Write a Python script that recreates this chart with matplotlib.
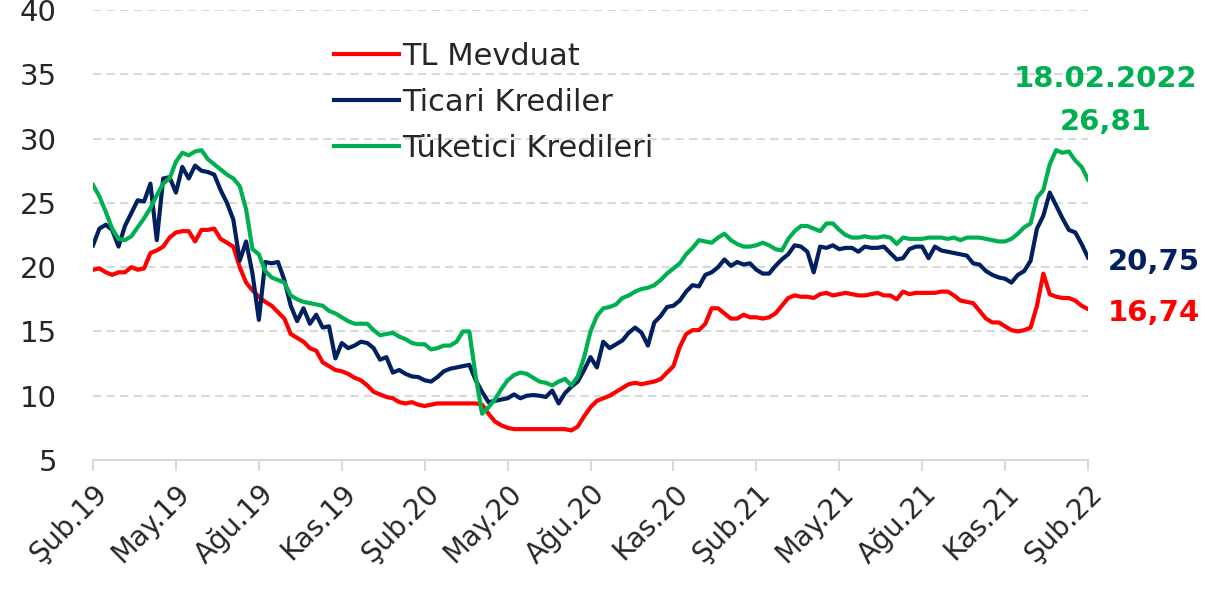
import numpy as np
import matplotlib
matplotlib.use("Agg")
import matplotlib.pyplot as plt

plt.rcParams['font.family'] = ['DejaVu Sans']

# haftalık faiz verisi (%), Şub.19 - 18.02.2022
tl_mevduat = [
    19.8, 19.9, 19.6, 19.4, 19.6, 19.6, 20.0, 19.8, 19.9, 21.1,
    21.3, 21.6, 22.3, 22.7, 22.8, 22.8, 22.0, 22.9, 22.9, 23.0,
    22.2, 21.9, 21.6, 20.0, 18.8, 18.2, 17.7, 17.3, 17.0, 16.5,
    16.0, 14.8, 14.5, 14.2, 13.7, 13.5, 12.6, 12.3, 12.0, 11.9,
    11.7, 11.4, 11.2, 10.8, 10.3, 10.1, 9.9, 9.8, 9.5, 9.4,
    9.5, 9.3, 9.2, 9.3, 9.4, 9.4, 9.4, 9.4, 9.4, 9.4,
    9.4, 9.3, 8.6, 8.0, 7.7, 7.5, 7.4, 7.4, 7.4, 7.4,
    7.4, 7.4, 7.4, 7.4, 7.4, 7.3, 7.6, 8.4, 9.1, 9.6,
    9.8, 10.0, 10.3, 10.6, 10.9, 11.0, 10.9, 11.0, 11.1, 11.3,
    11.8, 12.3, 13.8, 14.8, 15.1, 15.1, 15.6, 16.8, 16.8, 16.4,
    16.0, 16.0, 16.3, 16.1, 16.1, 16.0, 16.1, 16.4, 17.0, 17.6,
    17.8, 17.7, 17.7, 17.6, 17.9, 18.0, 17.8, 17.9, 18.0, 17.9,
    17.8, 17.8, 17.9, 18.0, 17.8, 17.8, 17.5, 18.1, 17.9, 18.0,
    18.0, 18.0, 18.0, 18.1, 18.1, 17.8, 17.4, 17.3, 17.2, 16.6,
    16.0, 15.7, 15.7, 15.4, 15.1, 15.0, 15.1, 15.3, 17.0, 19.5,
    17.9, 17.7, 17.6, 17.6, 17.4, 17.0, 16.74,
]

ticari = [
    21.7, 23.0, 23.3, 22.9, 21.6, 23.2, 24.2, 25.2, 25.1, 26.5,
    22.1, 26.9, 27.0, 25.8, 27.8, 26.9, 27.9, 27.5, 27.4, 27.2,
    26.0, 25.0, 23.7, 20.5, 22.0, 19.5, 15.9, 20.4, 20.3, 20.4,
    19.0, 17.0, 15.8, 16.8, 15.6, 16.3, 15.3, 15.4, 12.9, 14.1,
    13.7, 13.9, 14.2, 14.1, 13.7, 12.8, 13.0, 11.8, 12.0, 11.7,
    11.5, 11.45, 11.2, 11.1, 11.45, 11.9, 12.1, 12.2, 12.3, 12.4,
    11.2, 10.3, 9.5, 9.6, 9.7, 9.8, 10.1, 9.8, 10.0, 10.05,
    10.0, 9.9, 10.4, 9.4, 10.2, 10.7, 11.1, 12.0, 13.0, 12.2,
    14.2, 13.7, 14.0, 14.3, 14.9, 15.3, 14.9, 13.9, 15.7, 16.2,
    16.9, 17.0, 17.4, 18.1, 18.6, 18.5, 19.4, 19.6, 20.0, 20.6,
    20.1, 20.4, 20.2, 20.3, 19.8, 19.5, 19.5, 20.1, 20.6, 21.0,
    21.7, 21.6, 21.2, 19.6, 21.6, 21.5, 21.7, 21.4, 21.5, 21.5,
    21.2, 21.6, 21.5, 21.5, 21.6, 21.1, 20.6, 20.7, 21.4, 21.6,
    21.6, 20.7, 21.6, 21.3, 21.2, 21.1, 21.0, 20.9, 20.3, 20.2,
    19.7, 19.4, 19.2, 19.1, 18.8, 19.4, 19.7, 20.5, 23.0, 24.0,
    25.8, 24.8, 23.8, 22.9, 22.7, 21.8, 20.75,
]

tuketici = [
    26.4, 25.5, 24.3, 23.0, 22.2, 22.1, 22.4, 23.1, 23.8, 24.6,
    25.6, 26.5, 26.9, 28.2, 28.9, 28.7, 29.0, 29.1, 28.4, 28.0,
    27.6, 27.2, 26.9, 26.3, 24.5, 21.4, 21.0, 19.7, 19.2, 19.0,
    18.8, 17.8, 17.5, 17.3, 17.2, 17.1, 17.0, 16.6, 16.4, 16.1,
    15.8, 15.6, 15.6, 15.6, 15.1, 14.7, 14.8, 14.9, 14.6, 14.4,
    14.1, 14.0, 14.0, 13.6, 13.7, 13.9, 13.9, 14.2, 15.0, 15.0,
    11.5, 8.6, 9.1, 9.7, 10.5, 11.2, 11.6, 11.8, 11.7, 11.4,
    11.1, 11.0, 10.8, 11.1, 11.3, 10.8, 11.5, 13.0, 15.0, 16.2,
    16.8, 16.9, 17.1, 17.6, 17.8, 18.1, 18.3, 18.4, 18.6, 19.0,
    19.5, 19.9, 20.3, 21.0, 21.5, 22.1, 22.0, 21.9, 22.3, 22.6,
    22.1, 21.8, 21.6, 21.6, 21.7, 21.9, 21.7, 21.4, 21.3, 22.2,
    22.8, 23.2, 23.2, 23.0, 22.8, 23.4, 23.4, 22.9, 22.5, 22.3,
    22.3, 22.4, 22.3, 22.3, 22.4, 22.3, 21.8, 22.3, 22.2, 22.2,
    22.2, 22.3, 22.3, 22.3, 22.2, 22.3, 22.1, 22.3, 22.3, 22.3,
    22.2, 22.1, 22.0, 22.0, 22.2, 22.6, 23.1, 23.4, 25.4, 26.0,
    28.0, 29.1, 28.9, 29.0, 28.3, 27.8, 26.81,
]

ay_etiketleri = ['Şub.19', 'May.19', 'Ağu.19', 'Kas.19', 'Şub.20', 'May.20', 'Ağu.20',
                 'Kas.20', 'Şub.21', 'May.21', 'Ağu.21', 'Kas.21', 'Şub.22']

son_tarih = '18.02.2022'

RED = '#FF0000'
NAVY = '#002060'
GREEN = '#00B050'

x = np.arange(len(tl_mevduat))

fig = plt.figure(figsize=(12.05, 5.92), dpi=100)
ax = fig.add_axes([0.0772, 0.223, 0.8257, 0.760])

ax.plot(x, tl_mevduat, color=RED, lw=3, label='TL Mevduat', solid_joinstyle='round')
ax.plot(x, ticari, color=NAVY, lw=3, label='Ticari Krediler', solid_joinstyle='round')
ax.plot(x, tuketici, color=GREEN, lw=3, label='Tüketici Kredileri', solid_joinstyle='round')

ax.set_xlim(0, len(x) - 1)
ax.set_ylim(5, 40)
ax.set_yticks(range(5, 41, 5))
ax.yaxis.grid(True, color='#D9D9D9', lw=1.5, linestyle=(0, (4, 2.5)))
ax.set_axisbelow(True)

# ayda bir değil, 13 haftada bir etiket
ax.set_xticks(x[::13])
ax.set_xticklabels(ay_etiketleri, rotation=45, ha='right', rotation_mode='anchor')

for s in ['top', 'right', 'left']:
    ax.spines[s].set_visible(False)
ax.spines['bottom'].set_color('#D9D9D9')
ax.spines['bottom'].set_linewidth(1.5)
ax.tick_params(axis='x', direction='out', length=8, width=1.5, color='#D9D9D9',
               labelsize=20, labelcolor='#262626', pad=6)
ax.tick_params(axis='y', length=0, labelsize=21, labelcolor='#262626', pad=26)

leg = ax.legend(loc='upper left', bbox_to_anchor=(0.215, 0.99), frameon=False,
                fontsize=22, handlelength=2.1, handletextpad=0.1, labelspacing=0.55)
for t in leg.get_texts():
    t.set_color('#262626')

n = len(x) - 1
ax.text(n + 2.7, 34.6, son_tarih, color=GREEN, fontsize=21, fontweight='bold',
        ha='center', va='center', clip_on=False)
ax.text(n + 2.7, 31.3, f'{tuketici[-1]:.2f}'.replace('.', ','), color=GREEN, fontsize=21,
        fontweight='bold', ha='center', va='center', clip_on=False)
ax.text(n + 3.1, 20.4, f'{ticari[-1]:.2f}'.replace('.', ','), color=NAVY, fontsize=21,
        fontweight='bold', ha='left', va='center', clip_on=False)
ax.text(n + 3.1, 16.4, f'{tl_mevduat[-1]:.2f}'.replace('.', ','), color=RED, fontsize=21,
        fontweight='bold', ha='left', va='center', clip_on=False)

fig.savefig('out.png', dpi=100)
